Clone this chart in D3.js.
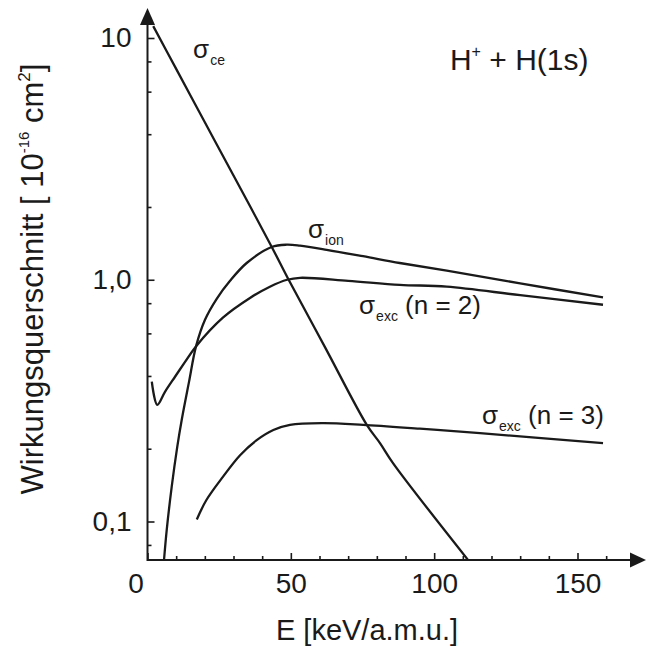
<!DOCTYPE html>
<html><head><meta charset="utf-8">
<script src="https://cdn.jsdelivr.net/npm/d3@7"></script>
<style>
html,body{margin:0;padding:0;background:#fff;}
svg{display:block;font-family:"Liberation Sans",Arial,Helvetica,sans-serif;}
</style></head>
<body><svg id="chart" width="647" height="653"></svg>
<script>
// ---- data ----
const energyCE = [2, 10, 20, 30, 43.3, 49.1, 62, 76.5, 81.1, 85.7, 111.8];
const sigmaCE  = [11.2, 7.45, 4.48, 2.7, 1.37, 1.007, 0.524, 0.251, 0.211, 0.174, 0.0694];

const energyIon = [5.76, 6.7, 8.44, 10.39, 11.93, 14.48, 16.92, 20.06, 24.14, 28.8, 34.6, 43.3, 48.55, 53.2, 62.5, 75.2, 88, 104.4, 130, 158.9];
const sigmaIon  = [0.0693, 0.0922, 0.139, 0.204, 0.263, 0.378, 0.530, 0.683, 0.834, 0.990, 1.173, 1.366, 1.396, 1.383, 1.33, 1.251, 1.173, 1.09, 0.966, 0.845];

const energyExc2 = [1.5, 3.4, 6.1, 9.6, 13.1, 16.9, 26.3, 35.75, 42.7, 48.7, 53.2, 70, 88, 104.4, 130, 158.9];
const sigmaExc2  = [0.379, 0.304, 0.344, 0.397, 0.457, 0.530, 0.697, 0.841, 0.936, 1.0, 1.019, 0.99, 0.953, 0.936, 0.863, 0.788];

const energyExc3 = [17.2, 20.6, 26.3, 32.3, 38.1, 43.9, 49.7, 61.2, 75.2, 95, 116, 158.9];
const sigmaExc3  = [0.102, 0.123, 0.153, 0.188, 0.217, 0.239, 0.251, 0.255, 0.251, 0.242, 0.232, 0.211];

const xMajorTicks = [0, 50, 100, 150];
const xTickLabels = ["0", "50", "100", "150"];
const xMinorTicks = [10, 20, 30, 40, 60, 70, 80, 90, 110, 120, 130, 140, 160];
const yMajorTicks = [0.1, 1, 10];
const yTickLabels = ["0,1", "1,0", "10"];
const yMinorTicks = [0.08, 0.2, 0.4, 0.6, 0.8, 2, 4, 6, 8];

const xTitle = "E [keV/a.m.u.]";
const reactionLabel = ["H", "+", " + H(1s)"];

// ---- layout ----
const svg = d3.select("#chart");
const x = d3.scaleLinear().domain([0, 150]).range([147.5, 577.5]);
const y = d3.scaleLog().domain([0.1, 10]).range([521.5, 38]);
const axisY = 560, axisX = 147.5, topY = 8, rightX = 646;
const ink = "#1a1a1a";

svg.append("rect").attr("width", 647).attr("height", 653).attr("fill", "#fff");

svg.append("defs").append("clipPath").attr("id", "plot")
  .append("rect").attr("x", axisX).attr("y", 0).attr("width", rightX - axisX).attr("height", axisY);

// curves
const series = [
  {e: energyCE, s: sigmaCE},
  {e: energyIon, s: sigmaIon},
  {e: energyExc2, s: sigmaExc2},
  {e: energyExc3, s: sigmaExc3}
];
const line = d3.line().x(d => x(d[0])).y(d => y(d[1])).curve(d3.curveCatmullRom.alpha(0.5));
const g = svg.append("g").attr("clip-path", "url(#plot)");
series.forEach(sr => {
  g.append("path").datum(sr.e.map((v, i) => [v, sr.s[i]]))
    .attr("d", line).attr("fill", "none").attr("stroke", ink)
    .attr("stroke-width", 2.3).attr("stroke-linejoin", "round");
});

// x axis
const xAxisMajor = d3.axisBottom(x).tickValues(xMajorTicks).tickSize(-7).tickPadding(13)
  .tickFormat((d, i) => xTickLabels[i]);
const xAxisMinor = d3.axisBottom(x).tickValues(xMinorTicks).tickSize(-4).tickFormat("");
const gxMin = svg.append("g").attr("transform", `translate(0,${axisY})`).call(xAxisMinor);
const gx = svg.append("g").attr("transform", `translate(0,${axisY})`).call(xAxisMajor);
[gx, gxMin].forEach(a => {
  a.select(".domain").remove();
  a.selectAll("line").attr("stroke", ink).attr("stroke-width", 1.6);
});
gx.selectAll("text").attr("font-size", 28).attr("fill", ink)
  .attr("font-family", "Liberation Sans, Arial, sans-serif")
  .attr("dx", d => d === 0 ? -12 : 0);

// y axis
const yAxisMajor = d3.axisLeft(y).tickValues(yMajorTicks).tickSize(-7).tickPadding(16)
  .tickFormat((d, i) => yTickLabels[i]);
const yAxisMinor = d3.axisLeft(y).tickValues(yMinorTicks).tickSize(-4).tickFormat("");
const gyMin = svg.append("g").attr("transform", `translate(${axisX},0)`).call(yAxisMinor);
const gy = svg.append("g").attr("transform", `translate(${axisX},0)`).call(yAxisMajor);
[gy, gyMin].forEach(a => {
  a.select(".domain").remove();
  a.selectAll("line").attr("stroke", ink).attr("stroke-width", 1.6);
});
gy.selectAll("text").attr("font-size", 28).attr("fill", ink)
  .attr("font-family", "Liberation Sans, Arial, sans-serif");

// axis lines + arrows
svg.append("line").attr("x1", axisX).attr("x2", rightX - 8).attr("y1", axisY).attr("y2", axisY)
  .attr("stroke", ink).attr("stroke-width", 2);
svg.append("line").attr("x1", axisX).attr("x2", axisX).attr("y1", axisY + 1).attr("y2", topY + 8)
  .attr("stroke", ink).attr("stroke-width", 2);
svg.append("path").attr("d", `M${rightX},${axisY} L${rightX - 16},${axisY - 7.5} L${rightX - 16},${axisY + 7.5} Z`)
  .attr("fill", ink);
svg.append("path").attr("d", `M${axisX},${topY} L${axisX - 7.5},${topY + 17} L${axisX + 7.5},${topY + 17} Z`)
  .attr("fill", ink);

// axis titles
svg.append("text").attr("x", 367).attr("y", 640).attr("text-anchor", "middle")
  .attr("font-size", 29).attr("fill", ink).text(xTitle);

const yt = svg.append("text").attr("transform", "translate(43,279) rotate(-90)")
  .attr("text-anchor", "middle").attr("font-size", 31).attr("fill", ink);
yt.append("tspan").text("Wirkungsquerschnitt [ 10");
yt.append("tspan").attr("font-size", 15).attr("dy", -14).text("-16");
yt.append("tspan").attr("dy", 14).text(" cm");
yt.append("tspan").attr("font-size", 17).attr("dy", -13).text("2");
yt.append("tspan").attr("dy", 13).text("]");

// curve labels (anchored in data coordinates)
const labels = [
  {E: 15.9, v: 8.3, sub: "ce", rest: ""},
  {E: 56, v: 1.49, sub: "ion", rest: ""},
  {E: 73.8, v: 0.725, sub: "exc", rest: " (n = 2)"},
  {E: 116.7, v: 0.252, sub: "exc", rest: " (n = 3)"}
];
labels.forEach(l => {
  const t = svg.append("text").attr("x", x(l.E)).attr("y", y(l.v))
    .attr("font-size", 26).attr("fill", ink);
  t.append("tspan").text("σ");
  t.append("tspan").attr("font-size", 14).attr("dy", 7).attr("dx", 1).text(l.sub);
  if (l.rest) t.append("tspan").attr("dy", -7).text(l.rest);
});

// reaction label
const rl = svg.append("text").attr("x", x(105.5)).attr("y", y(7.4))
  .attr("font-size", 30).attr("fill", ink);
rl.append("tspan").text(reactionLabel[0]);
rl.append("tspan").attr("font-size", 16).attr("dy", -13).text(reactionLabel[1]);
rl.append("tspan").attr("dy", 13).text(reactionLabel[2]);
</script></body></html>
